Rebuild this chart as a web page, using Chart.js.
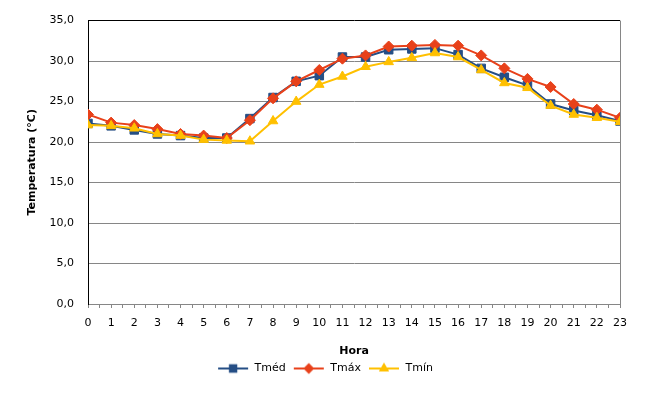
<!DOCTYPE html>
<html>
<head>
<meta charset="utf-8">
<script src="https://cdn.jsdelivr.net/npm/chart.js@4.4.1/dist/chart.umd.min.js"></script>
<style>
  html, body { margin: 0; padding: 0; background: #fff; }
  #wrap { width: 672px; height: 400px; }
</style>
</head>
<body>
<div id="wrap"><canvas id="tempChart"></canvas></div>
<script>
// horas do dia e temperaturas (°C)
const hours = [0, 1, 2, 3, 4, 5, 6, 7, 8, 9, 10, 11, 12, 13, 14, 15, 16, 17, 18, 19, 20, 21, 22, 23];
const tmed = [22.3, 22.0, 21.5, 21.0, 20.8, 20.5, 20.5, 22.9, 25.5, 27.5, 28.2, 30.5, 30.5, 31.4, 31.5, 31.6, 30.8, 29.1, 28.0, 27.0, 24.7, 23.9, 23.3, 22.6];
const tmax = [23.4, 22.4, 22.1, 21.6, 21.0, 20.8, 20.5, 22.7, 25.4, 27.5, 28.9, 30.3, 30.7, 31.8, 31.9, 32.0, 31.9, 30.7, 29.1, 27.8, 26.8, 24.7, 24.0, 23.0];
const tmin = [22.1, 22.0, 21.7, 21.0, 20.8, 20.3, 20.2, 20.1, 22.6, 25.0, 27.1, 28.1, 29.3, 29.9, 30.4, 31.0, 30.5, 28.9, 27.3, 26.7, 24.5, 23.4, 23.0, 22.5];
const yTicks = [0, 5, 10, 15, 20, 25, 30, 35];

const FONT = 'DejaVu Sans, Verdana, sans-serif';
const GRID = '#868686';

function points(values) {
    return values.map((v, i) => ({ x: hours[i], y: v }));
}

// small canvas with line + marker, used as legend icon
function legendIcon(color, style, radius) {
    const c = document.createElement('canvas');
    c.width = 32;
    c.height = 14;
    const g = c.getContext('2d');
    g.strokeStyle = color;
    g.lineWidth = 2;
    g.beginPath();
    g.moveTo(1, 7);
    g.lineTo(31, 7);
    g.stroke();
    Chart.helpers.drawPoint(g, { pointStyle: style, radius: radius, borderWidth: 1, rotation: 0 }, 16, 7);
    g.fillStyle = color;
    g.fill();
    return c;
}

const data = {
    datasets: [{
        label: 'Tméd',
        data: points(tmed),
        borderColor: '#254E85',
        backgroundColor: '#254E85',
        pointStyle: 'rect',
        pointRadius: 6,
        order: 3
    }, {
        label: 'Tmáx',
        data: points(tmax),
        borderColor: '#E8411A',
        backgroundColor: '#E8411A',
        pointStyle: 'rectRot',
        pointRadius: 5.5,
        order: 2
    }, {
        label: 'Tmín',
        data: points(tmin),
        borderColor: '#FFC000',
        backgroundColor: '#FFC000',
        pointStyle: 'triangle',
        pointRadius: 5.5,
        order: 1
    }]
};

const config = {
    type: 'line',
    data: data,
    options: {
        responsive: true,
        maintainAspectRatio: false,
        animation: false,
        events: [],
        layout: {
            padding: { top: 18, right: 52, left: 30, bottom: 16 }
        },
        elements: {
            line: { borderWidth: 2, tension: 0 },
            point: { borderWidth: 1, hoverRadius: 6 }
        },
        scales: {
            x: {
                type: 'linear',
                min: 0,
                max: 23,
                afterFit: (scale) => { scale.height = 52; },
                ticks: {
                    stepSize: 0.5,
                    autoSkip: false,
                    maxRotation: 0,
                    minRotation: 0,
                    padding: 9,
                    color: '#000',
                    font: { family: FONT, size: 11 },
                    callback: (v) => Number.isInteger(v) ? String(hours[v]) : ''
                },
                grid: {
                    color: (ctx) => ctx.tick && ctx.tick.value === 23 ? GRID : 'rgba(0,0,0,0)',
                    tickColor: GRID,
                    tickLength: 4,
                    drawOnChartArea: true
                },
                border: { color: GRID, width: 1 },
                title: {
                    display: true,
                    text: 'Hora',
                    color: '#000',
                    padding: { top: 0, bottom: -2 },
                    font: { family: FONT, size: 11, weight: 'bold' }
                }
            },
            y: {
                min: 0,
                max: 35,
                afterFit: (scale) => { scale.width = 58; },
                afterBuildTicks: (scale) => { scale.ticks = yTicks.map(v => ({ value: v })); },
                ticks: {
                    padding: 14,
                    color: '#000',
                    font: { family: FONT, size: 11 },
                    callback: (v) => v.toFixed(1).replace('.', ',')
                },
                grid: {
                    color: (ctx) => ctx.tick && ctx.tick.value === 35 ? '#000' : GRID,
                    drawTicks: false
                },
                border: { color: '#000', width: 1 },
                title: {
                    display: true,
                    text: 'Temperatura (°C)',
                    color: '#000',
                    padding: { top: -4, bottom: 0 },
                    font: { family: FONT, size: 11, weight: 'bold' }
                }
            }
        },
        plugins: {
            legend: {
                position: 'bottom',
                labels: {
                    usePointStyle: true,
                    pointStyleWidth: 32,
                    boxHeight: 11,
                    padding: 7,
                    color: '#000',
                    font: { family: FONT, size: 11 },
                    generateLabels: (chart) => chart.data.datasets.map((ds, i) => ({
                        text: ds.label,
                        pointStyle: legendIcon(ds.borderColor, ds.pointStyle, ds.pointRadius - 1.5),
                        fillStyle: ds.backgroundColor,
                        strokeStyle: ds.borderColor,
                        lineWidth: 0,
                        hidden: false,
                        datasetIndex: i,
                        fontColor: '#000'
                    }))
                }
            },
            tooltip: { enabled: false }
        }
    }
};

const tempChart = new Chart(
    document.getElementById('tempChart'),
    config
);
</script>
</body>
</html>
